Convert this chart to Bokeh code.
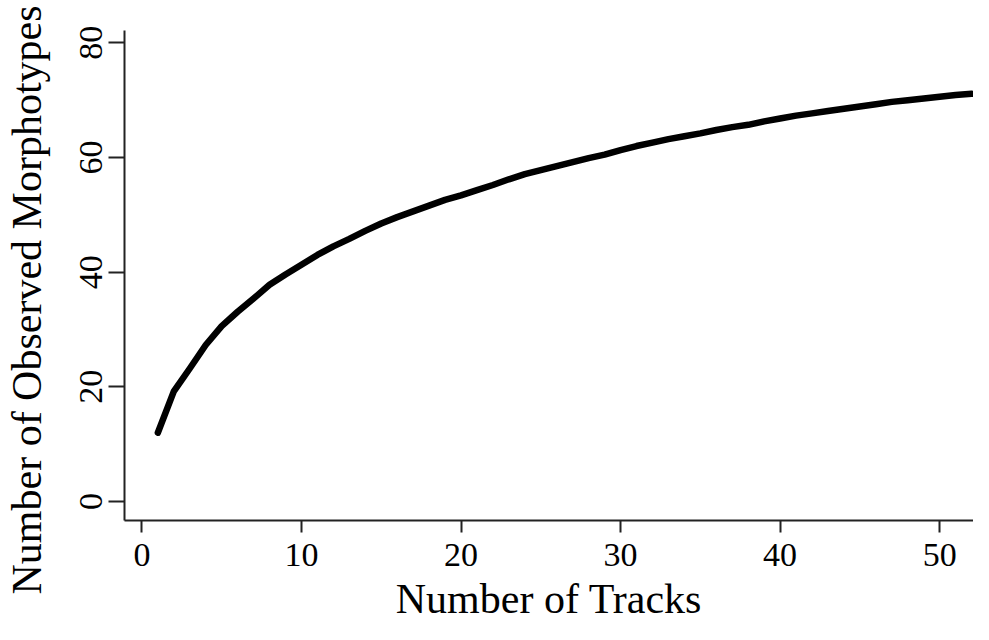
import math
from bokeh.plotting import figure
from bokeh.models import Range1d, FixedTicker, Title
from bokeh.embed import file_html
from bokeh.resources import INLINE

# --- data ---
tracks = list(range(1, 53))
morphotypes = [12.0, 19.2, 23.2, 27.3, 30.6, 33.1, 35.4, 37.8, 39.6, 41.3,
               43.0, 44.5, 45.8, 47.2, 48.5, 49.6, 50.6, 51.6, 52.6, 53.4,
               54.3, 55.2, 56.2, 57.1, 57.8, 58.5, 59.2, 59.9, 60.5, 61.3,
               62.0, 62.6, 63.2, 63.7, 64.2, 64.8, 65.3, 65.7, 66.3, 66.8,
               67.3, 67.7, 68.1, 68.5, 68.9, 69.3, 69.7, 70.0, 70.3, 70.6,
               70.9, 71.1]
x_ticks = [0, 10, 20, 30, 40, 50]
y_ticks = [0, 20, 40, 60, 80]
x_title = "Number of Tracks"
y_title = "Number of Observed Morphotypes"

FONT = "Liberation Serif"

p = figure(width=973, height=624, output_backend="svg", toolbar_location=None,
           x_range=Range1d(-1.09, 52.12), y_range=Range1d(-3.31, 82.15),
           min_border_left=124, min_border_right=0, min_border_top=30,
           min_border_bottom=103)
p.background_fill_color = "white"
p.border_fill_color = "white"
p.outline_line_color = None
p.grid.visible = False

p.line(tracks, morphotypes, line_width=6.5, line_color="black",
       line_join="round", line_cap="round")

for ax in (p.xaxis[0], p.yaxis[0]):
    ax.axis_line_color = "#222222"
    ax.axis_line_width = 2
    ax.major_tick_line_color = "#222222"
    ax.major_tick_line_width = 2
    ax.major_tick_in = 0
    ax.minor_tick_line_color = None
    ax.major_label_text_font = FONT
    ax.major_label_text_font_size = "34px"
    ax.major_label_text_color = "black"
    ax.axis_label_text_font = FONT
    ax.axis_label_text_font_style = "normal"
    ax.axis_label_text_color = "black"

p.xaxis.ticker = FixedTicker(ticks=x_ticks)
p.yaxis.ticker = FixedTicker(ticks=y_ticks)
p.xaxis.major_tick_out = 12
p.yaxis.major_tick_out = 16
p.xaxis.major_label_standoff = 11
p.yaxis.major_label_standoff = 6
p.yaxis.major_label_orientation = "vertical"

p.xaxis.axis_label = x_title
p.xaxis.axis_label_text_font_size = "42px"
p.xaxis.axis_label_standoff = 7

# spacer between the tick labels and the y title
p.yaxis.axis_label = " "
p.yaxis.axis_label_text_font_size = "1px"
p.yaxis.axis_label_standoff = 24

y_t = Title(text=y_title, align="left", offset=-74, standoff=0,
            text_font=FONT, text_font_size="42px", text_font_style="normal",
            text_color="black")
p.add_layout(y_t, "left")

open("out.html", "w").write(file_html(p, INLINE))
